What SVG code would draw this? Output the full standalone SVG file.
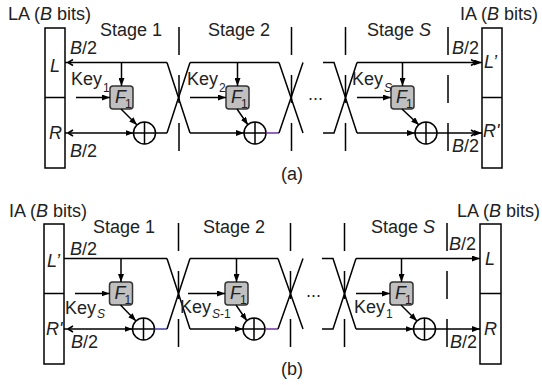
<svg xmlns="http://www.w3.org/2000/svg" width="542" height="385" viewBox="0 0 542 385">
<style>
.t{font-family:"Liberation Sans",Arial,sans-serif;font-size:18px;fill:#222}
.s{font-size:12px}
.i{font-style:italic}
.fl{font-family:"Liberation Sans",Arial,sans-serif;font-size:18px;font-style:italic;fill:#222}
.ln{fill:none;stroke:#000;stroke-width:1.5}
.tk{fill:none;stroke:#000;stroke-width:1.5;stroke-dasharray:28 20}
.bx{fill:#fff;stroke:#000;stroke-width:1.5}
.fb{fill:#c0c0c0;stroke:#333;stroke-width:1.5}
.xo{fill:#fff;stroke:#000;stroke-width:1.5}
</style>
<defs>
<marker id="ar" markerUnits="userSpaceOnUse" markerWidth="8" markerHeight="6" refX="8" refY="3" orient="auto">
<path d="M0,0 L8,3 L0,6 z" fill="#000"/>
</marker>
</defs>
<rect width="542" height="385" fill="#fff"/>

<!-- ===== (a) ===== -->
<g id="a-LA"><rect class="bx" x="45" y="28" width="20" height="140"/><line class="ln" x1="45" y1="97.5" x2="65" y2="97.5"/></g>
<g id="a-IA"><rect class="bx" x="482" y="28" width="20" height="140"/><line class="ln" x1="482" y1="97.5" x2="502" y2="97.5"/></g>
<g id="a-F1"><rect class="fb" x="110" y="86" width="23" height="23" rx="3"/></g>
<g id="a-F2"><rect class="fb" x="226" y="86" width="23" height="23" rx="3"/></g>
<g id="a-FS"><rect class="fb" x="391" y="86" width="23" height="23" rx="3"/></g>
<g id="a-X1"><circle class="xo" cx="144.5" cy="133" r="11"/><path class="ln" d="M133.5,133H155.5M144.5,122V144"/></g>
<g id="a-X2"><circle class="xo" cx="255" cy="133" r="11"/><path class="ln" d="M244,133H266M255,122V144"/></g>
<g id="a-XS"><circle class="xo" cx="426" cy="133" r="11"/><path class="ln" d="M415,133H437M426,122V144"/></g>

<g id="a-connectors">
<line class="ln" x1="65" y1="62.5" x2="167" y2="62.5"/>
<path class="ln" d="M68,62.5 L73,59.5 M68,62.5 L73,65.5"/>
<line class="ln" x1="65" y1="133" x2="133.5" y2="133" marker-end="url(#ar)"/>
<path class="ln" d="M68,133 L73,130 M68,133 L73,136"/>
<line class="ln" x1="121.5" y1="62.5" x2="121.5" y2="86" marker-end="url(#ar)"/>
<line class="ln" x1="76" y1="97.5" x2="110" y2="97.5" marker-end="url(#ar)"/>
<line class="ln" x1="121" y1="109" x2="137" y2="125" marker-end="url(#ar)"/>
<line class="ln" x1="155.5" y1="133" x2="167" y2="133"/>
<path class="ln" d="M167,62.5 L190,133 M167,133 L190,62.5"/>

<line class="ln" x1="190" y1="62.5" x2="279" y2="62.5"/>
<line class="ln" x1="190" y1="133" x2="244" y2="133" marker-end="url(#ar)"/>
<line class="ln" x1="237.5" y1="62.5" x2="237.5" y2="86" marker-end="url(#ar)"/>
<line class="ln" x1="190" y1="97.5" x2="226" y2="97.5" marker-end="url(#ar)"/>
<line class="ln" x1="237" y1="109" x2="248" y2="125" marker-end="url(#ar)"/>
<line fill="none" stroke="#7030a0" stroke-width="1.5" x1="266" y1="133" x2="279" y2="133"/>
<path class="ln" d="M279,62.5 L303,133 M279,133 L303,62.5"/>

<path class="ln" d="M323,62.5 H334 L357,133 M323,133 H334 L357,62.5"/>

<line class="ln" x1="357" y1="62.5" x2="482" y2="62.5" marker-end="url(#ar)"/>
<path class="ln" d="M476,62.5 L471,59.5 M476,62.5 L471,65.5"/>
<line class="ln" x1="357" y1="133" x2="415" y2="133" marker-end="url(#ar)"/>
<line class="ln" x1="437" y1="133" x2="482" y2="133" marker-end="url(#ar)"/>
<path class="ln" d="M476,133 L471,130 M476,133 L471,136"/>
<line class="ln" x1="402.5" y1="62.5" x2="402.5" y2="86" marker-end="url(#ar)"/>
<line class="ln" x1="357" y1="97.5" x2="391" y2="97.5" marker-end="url(#ar)"/>
<line class="ln" x1="402" y1="109" x2="419" y2="125" marker-end="url(#ar)"/>

<line class="tk" x1="179" y1="27" x2="179" y2="152"/>
<line class="tk" x1="291.5" y1="27" x2="291.5" y2="152"/>
<line class="tk" x1="345.5" y1="27" x2="345.5" y2="152"/>
<line class="tk" x1="448" y1="27" x2="448" y2="152"/>
</g>

<g id="a-labels">
<text class="t" x="8" y="20">LA (<tspan class="i">B</tspan> bits)</text>
<text class="t" x="100" y="36">Stage 1</text>
<text class="t" x="208" y="36">Stage 2</text>
<text class="t" x="367" y="36">Stage <tspan class="i">S</tspan></text>
<text class="t" x="460" y="20">IA (<tspan class="i">B</tspan> bits)</text>
<text class="t" x="70" y="54"><tspan class="i">B</tspan>/2</text>
<text class="t" x="70" y="157"><tspan class="i">B</tspan>/2</text>
<text class="t" x="452" y="54"><tspan class="i">B</tspan>/2</text>
<text class="t" x="452" y="152"><tspan class="i">B</tspan>/2</text>
<text class="t i" x="50" y="72">L</text>
<text class="t i" x="49" y="139">R</text>
<text class="t i" x="484" y="68">L’</text>
<text class="t i" x="483" y="137">R'</text>
<text class="t"><tspan x="71" y="85">Key</tspan><tspan class="s" x="103" y="92">1</tspan></text>
<text class="t"><tspan x="187" y="85">Key</tspan><tspan class="s" x="219" y="92">2</tspan></text>
<text class="t"><tspan x="352" y="85">Key</tspan><tspan class="s i" x="384" y="92">S</tspan></text>
<text class="fl" x="115" y="103">F</text><text class="t s" x="125" y="108">1</text>
<text class="fl" x="231" y="103">F</text><text class="t s" x="241" y="108">1</text>
<text class="fl" x="396" y="103">F</text><text class="t s" x="406" y="108">1</text>
<text class="t" x="308" y="100">...</text>
<text class="t" x="292" y="180" text-anchor="middle">(a)</text>
</g>

<!-- ===== (b) ===== -->
<g id="b-IA"><rect class="bx" x="44" y="224" width="20" height="140"/><line class="ln" x1="44" y1="293.5" x2="64" y2="293.5"/></g>
<g id="b-LA"><rect class="bx" x="480" y="224" width="21" height="140"/><line class="ln" x1="480" y1="293.5" x2="501" y2="293.5"/></g>
<g id="b-F1"><rect class="fb" x="109.5" y="282" width="23" height="23" rx="3"/></g>
<g id="b-F2"><rect class="fb" x="225" y="282" width="23" height="23" rx="3"/></g>
<g id="b-FS"><rect class="fb" x="390" y="282" width="23" height="23" rx="3"/></g>
<g id="b-X1"><circle class="xo" cx="143.5" cy="329" r="11"/><path class="ln" d="M132.5,329H154.5M143.5,318V340"/></g>
<g id="b-X2"><circle class="xo" cx="254" cy="329" r="11"/><path class="ln" d="M243,329H265M254,318V340"/></g>
<g id="b-XS"><circle class="xo" cx="424.5" cy="329" r="11"/><path class="ln" d="M413.5,329H435.5M424.5,318V340"/></g>

<g id="b-connectors">
<line class="ln" x1="64" y1="258.5" x2="167" y2="258.5"/>
<line class="ln" x1="64" y1="329" x2="132.5" y2="329" marker-end="url(#ar)"/>
<path class="ln" d="M68,329 L73,326 M68,329 L73,332"/>
<line class="ln" x1="121" y1="258.5" x2="121" y2="282" marker-end="url(#ar)"/>
<line class="ln" x1="75" y1="293.5" x2="109.5" y2="293.5" marker-end="url(#ar)"/>
<line class="ln" x1="120.5" y1="305" x2="136" y2="321" marker-end="url(#ar)"/>
<line fill="none" stroke="#3f3fa8" stroke-width="1.5" x1="154.5" y1="329" x2="167" y2="329"/>
<path class="ln" d="M167,258.5 L190,329 M167,329 L190,258.5"/>

<line class="ln" x1="190" y1="258.5" x2="278" y2="258.5"/>
<line class="ln" x1="190" y1="329" x2="243" y2="329" marker-end="url(#ar)"/>
<line class="ln" x1="236.5" y1="258.5" x2="236.5" y2="282" marker-end="url(#ar)"/>
<line class="ln" x1="188" y1="293.5" x2="225" y2="293.5" marker-end="url(#ar)"/>
<line class="ln" x1="236" y1="305" x2="247" y2="321" marker-end="url(#ar)"/>
<line fill="none" stroke="#7030a0" stroke-width="1.5" x1="265" y1="329" x2="278" y2="329"/>
<path class="ln" d="M278,258.5 L303,329 M278,329 L303,258.5"/>

<path class="ln" d="M322,258.5 H333 L356,329 M322,329 H333 L356,258.5"/>

<line class="ln" x1="356" y1="258.5" x2="480" y2="258.5" marker-end="url(#ar)"/>
<line class="ln" x1="356" y1="329" x2="413.5" y2="329" marker-end="url(#ar)"/>
<line class="ln" x1="435.5" y1="329" x2="480" y2="329" marker-end="url(#ar)"/>
<line class="ln" x1="401.5" y1="258.5" x2="401.5" y2="282" marker-end="url(#ar)"/>
<line class="ln" x1="356" y1="293.5" x2="390" y2="293.5" marker-end="url(#ar)"/>
<line class="ln" x1="401" y1="305" x2="417" y2="321" marker-end="url(#ar)"/>

<line class="tk" x1="178.5" y1="223" x2="178.5" y2="348"/>
<line class="tk" x1="290.5" y1="223" x2="290.5" y2="348"/>
<line class="tk" x1="344.5" y1="223" x2="344.5" y2="348"/>
<line class="tk" x1="447" y1="223" x2="447" y2="348"/>
</g>

<g id="b-labels">
<text class="t" x="9" y="217">IA (<tspan class="i">B</tspan> bits)</text>
<text class="t" x="93" y="233">Stage 1</text>
<text class="t" x="203" y="233">Stage 2</text>
<text class="t" x="371" y="233">Stage <tspan class="i">S</tspan></text>
<text class="t" x="457" y="217">LA (<tspan class="i">B</tspan> bits)</text>
<text class="t" x="70" y="255"><tspan class="i">B</tspan>/2</text>
<text class="t" x="71" y="348"><tspan class="i">B</tspan>/2</text>
<text class="t" x="449" y="250"><tspan class="i">B</tspan>/2</text>
<text class="t" x="450" y="348"><tspan class="i">B</tspan>/2</text>
<text class="t i" x="47" y="267">L’</text>
<text class="t i" x="46" y="335">R'</text>
<text class="t i" x="485" y="265">L</text>
<text class="t i" x="484" y="335">R</text>
<text class="t"><tspan x="65" y="314">Key</tspan><tspan class="s i" x="97" y="318">S</tspan></text>
<text class="t"><tspan x="180" y="313">Key</tspan><tspan class="s" x="212" y="318"><tspan class="i">S</tspan>-1</tspan></text>
<text class="t"><tspan x="354" y="313">Key</tspan><tspan class="s" x="386" y="318">1</tspan></text>
<text class="fl" x="114.5" y="299">F</text><text class="t s" x="124.5" y="304">1</text>
<text class="fl" x="230" y="299">F</text><text class="t s" x="240" y="304">1</text>
<text class="fl" x="395" y="299">F</text><text class="t s" x="405" y="304">1</text>
<text class="t" x="306" y="297">...</text>
<text class="t" x="292" y="375" text-anchor="middle">(b)</text>
</g>
</svg>
